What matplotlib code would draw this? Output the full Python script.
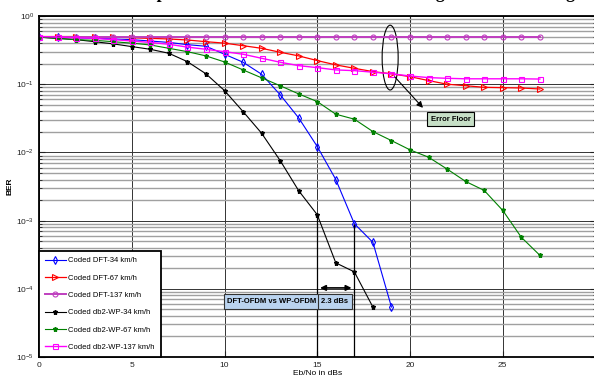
import numpy as np
import matplotlib
matplotlib.use('Agg')
import matplotlib.pyplot as plt
from matplotlib.patches import Ellipse

plt.rcParams['font.family'] = ['Liberation Sans', 'DejaVu Sans']

# Eb/No axis (dB)
snr_27 = list(range(0, 28))
snr_dft34 = list(range(0, 20))
snr_wp34 = list(range(0, 19))

# BER values
ber_dft34 = [0.5, 0.49, 0.48, 0.47, 0.46, 0.45, 0.43, 0.41, 0.38, 0.36,
             0.275, 0.21, 0.14, 0.07, 0.032, 0.0122, 0.004, 0.0009, 0.00048, 5.4e-5]
ber_dft67 = [0.5, 0.5, 0.5, 0.49, 0.49, 0.48, 0.47, 0.46, 0.445, 0.42,
             0.40, 0.367, 0.336, 0.294, 0.26, 0.222, 0.192, 0.171, 0.153, 0.142,
             0.129, 0.113, 0.1, 0.095, 0.09, 0.089, 0.088, 0.085]
ber_dft137 = [0.5] * 28
ber_wp34 = [0.49, 0.47, 0.45, 0.42, 0.39, 0.356, 0.325, 0.284, 0.214, 0.142,
            0.0806, 0.0397, 0.0191, 0.0076, 0.00274, 0.00122, 0.00024, 0.000177, 5.4e-5]
ber_wp67 = [0.49, 0.47, 0.45, 0.44, 0.42, 0.40, 0.376, 0.336, 0.30, 0.26,
            0.212, 0.162, 0.124, 0.095, 0.072, 0.0556, 0.0363, 0.0307, 0.0202, 0.0149,
            0.0109, 0.0085, 0.0057, 0.00375, 0.00277, 0.00141, 0.00057, 0.00031]
ber_wp137 = [0.5, 0.49, 0.48, 0.47, 0.45, 0.43, 0.41, 0.385, 0.35, 0.325,
             0.30, 0.275, 0.24, 0.21, 0.187, 0.175, 0.162, 0.158, 0.15, 0.142,
             0.132, 0.125, 0.122, 0.12, 0.12, 0.12, 0.12, 0.119]

labels = ['Coded DFT-34 km/h', 'Coded DFT-67 km/h', 'Coded DFT-137 km/h',
          'Coded db2-WP-34 km/h', 'Coded db2-WP-67 km/h', 'Coded db2-WP-137 km/h']

fig = plt.figure(figsize=(5.94, 3.80), dpi=100)
ax = fig.add_axes([39 / 594, 23 / 380, 556.5 / 594, 341 / 380])

ax.plot(snr_dft34, ber_dft34, color='#0000ff', lw=0.8, marker='d', ms=3.8, mfc='none', mew=0.8, label=labels[0])
ax.plot(snr_27, ber_dft67, color='#ff0000', lw=0.9, marker='>', ms=4, mfc='none', mew=0.8, label=labels[1])
ax.plot(snr_27, ber_dft137, color='#bf3fbf', lw=1.4, marker='o', ms=3.6, mfc='none', mew=0.8, label=labels[2])
ax.plot(snr_wp34, ber_wp34, color='black', lw=0.8, marker='*', ms=3.6, label=labels[3])
ax.plot(snr_27, ber_wp67, color='#008000', lw=0.8, marker='*', ms=3.6, label=labels[4])
ax.plot(snr_27, ber_wp137, color='#ff00ff', lw=1.0, marker='s', ms=3.6, mfc='none', mew=0.8, label=labels[5])

ax.set_yscale('log')
ax.set_xlim(0, 30)
ax.set_ylim(1e-5, 1)
ax.set_xticks([0, 5, 10, 15, 20, 25])
ax.xaxis.set_minor_locator(matplotlib.ticker.NullLocator())

ax.grid(which='major', axis='both', color='#333333', lw=0.7)
ax.grid(which='minor', axis='y', color='#a0a0a0', lw=1.0)
ax.set_axisbelow(True)

ax.tick_params(which='both', direction='in', top=True, right=True, labelsize=6, colors='#222222')
ax.tick_params(which='major', length=4)
ax.tick_params(which='minor', length=2)
for s in ax.spines.values():
    s.set_linewidth(1.3)

ax.set_xlabel('Eb/No in dBs', fontsize=6, labelpad=1)
ax.set_ylabel('BER', fontsize=6, fontweight='bold', labelpad=2)

# annotations
ax.add_patch(Ellipse((0.631, 0.878), 0.0288, 0.19, transform=ax.transAxes,
                     fill=False, ec='black', lw=0.8))
ax.annotate('', xy=(20.8, 0.042), xytext=(19.08, 0.137),
            arrowprops=dict(arrowstyle='-|>', color='black', lw=0.8, mutation_scale=9))
ax.text(22.2, 0.0305, 'Error Floor', fontsize=5.5, fontweight='bold', ha='center', va='center',
        bbox=dict(boxstyle='square,pad=0.45', fc='#c6dfc6', ec='black', lw=0.8))

ax.vlines(15, 1e-5, ber_wp34[15], color='black', lw=0.9)
ax.vlines(17, 1e-5, ber_dft34[17], color='black', lw=0.9)
ax.annotate('', xy=(15, 1.03e-4), xytext=(17, 1.03e-4),
            arrowprops=dict(arrowstyle='<|-|>', color='black', lw=1.2, mutation_scale=8))
ax.text(12.56, 6.56e-5, 'DFT-OFDM vs WP-OFDM', fontsize=5.5, fontweight='bold', ha='center', va='center',
        bbox=dict(boxstyle='square,pad=0.5', fc='#bad3ef', ec='#333333', lw=0.8))
ax.text(15.96, 6.56e-5, '2.3 dBs', fontsize=5.5, fontweight='bold', ha='center', va='center',
        bbox=dict(boxstyle='square,pad=0.5', fc='#bad3ef', ec='#333333', lw=0.8))

leg = ax.legend(loc='lower left', bbox_to_anchor=(0, 0), borderaxespad=0, fontsize=5.5,
                handlelength=2.7, labelspacing=1.3, borderpad=0.8, handletextpad=0.3,
                fancybox=False, framealpha=1, edgecolor='black')
leg.get_frame().set_linewidth(1.3)

# title clipped at top of the original image
fig.text(0.58, 1.004, 'BER performance with reference to coding and interleaving',
         fontsize=13, fontweight='bold', family=['Liberation Serif', 'DejaVu Serif'],
         ha='center', va='baseline')

fig.savefig('out.png', dpi=100)
